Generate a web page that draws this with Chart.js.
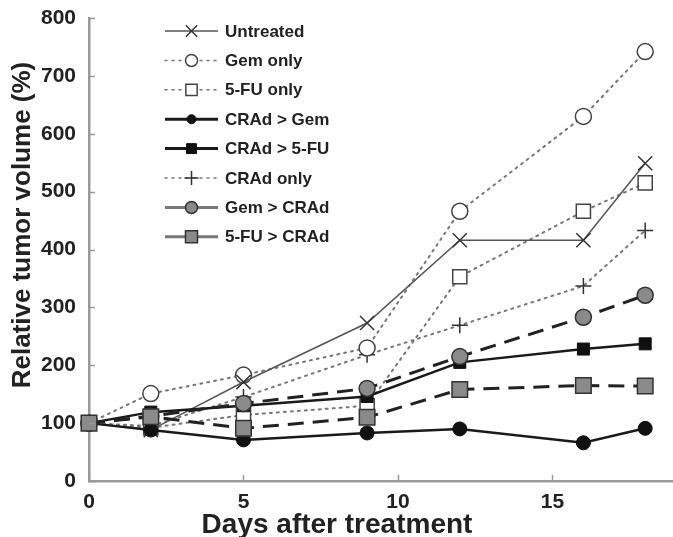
<!DOCTYPE html>
<html>
<head>
<meta charset="utf-8">
<script src="https://cdn.jsdelivr.net/npm/chart.js@4/dist/chart.umd.min.js"></script>
<style>
html,body{margin:0;padding:0;background:#fff;overflow:hidden;}
#wrap{width:673px;height:537px;position:relative;}
</style>
</head>
<body>
<div id="wrap"><canvas id="c"></canvas></div>
<script>
// ---- data ----
const days = [0, 2, 5, 9, 12, 16, 18];
const seriesNames = ["Untreated", "Gem only", "5-FU only", "CRAd > Gem", "CRAd > 5-FU", "CRAd only", "Gem > CRAd", "5-FU > CRAd"];
const untreated = [100, 88, 171, 273, 416, 416, 549];
const gemOnly   = [100, 151, 183, 230, 466, 630, 742];
const fuOnly    = [100, 92, 114, 130, 353, 466, 515];
const cradGem   = [100, 88, 71, 83, 90, 66, 91];
const cradFu    = [100, 119, 130, 146, 205, 228, 237];
const cradOnly  = [100, 95, 145, 218, 269, 337, 433];
const gemCrad   = [100, 112, 134, 160, 215, 283, 321];
const fuCrad    = [100, 111, 91, 110, 158, 165, 164];
const yTicks = [0, 100, 200, 300, 400, 500, 600, 700, 800];
const xTicks = [0, 5, 10, 15];
const xTitle = "Days after treatment";
const yTitle = "Relative tumor volume (%)";

const values = [untreated, gemOnly, fuOnly, cradGem, cradFu, cradOnly, gemCrad, fuCrad];

// ---- styles ----
const FONT = '"Liberation Sans", Arial, sans-serif';
const styles = [
  {line:'#555', w:1.5, dash:[], ps:'crossRot', pr:10, pf:'rgba(0,0,0,0)', pb:'#333', pw:1.5, ord:3,
   lg:{line:'#555', w:1.5, dash:[], pr:8}},
  {line:'#777', w:2, dash:[2,5], ps:'circle', pr:8, pf:'#fff', pb:'#444', pw:1.5, ord:3,
   lg:{line:'#777', w:1.5, dash:[2,5], pr:6}},
  {line:'#777', w:2, dash:[2,5], ps:'rect', pr:10, pf:'#fff', pb:'#444', pw:1.5, ord:3,
   lg:{line:'#777', w:1.5, dash:[2,5], pr:8}},
  {line:'#1a1a1a', w:2.5, dash:[], ps:'circle', pr:7, pf:'#111', pb:'#111', pw:1, ord:2,
   lg:{line:'#1a1a1a', w:3, dash:[], pr:4.5}},
  {line:'#1a1a1a', w:2.5, dash:[], ps:'rect', pr:8.5, pf:'#111', pb:'#111', pw:1, ord:2,
   lg:{line:'#1a1a1a', w:3, dash:[], pr:7}},
  {line:'#777', w:2, dash:[2,5], ps:'cross', pr:8, pf:'rgba(0,0,0,0)', pb:'#333', pw:1.5, ord:3,
   lg:{line:'#777', w:1.5, dash:[2,5], pr:7}},
  {line:'#222', w:3, dash:[16,9], ps:'circle', pr:8, pf:'#8a8a8a', pb:'#333', pw:1.5, ord:1,
   lg:{line:'#777', w:3, dash:[], pr:6}},
  {line:'#222', w:3, dash:[16,9], ps:'rect', pr:11, pf:'#8a8a8a', pb:'#333', pw:1.5, ord:0,
   lg:{line:'#777', w:3, dash:[], pr:8.5}}
];

const datasets = seriesNames.map((name, i) => {
  const s = styles[i];
  return {
    label: name,
    data: days.map((d, j) => ({x: d, y: values[i][j]})),
    order: s.ord,
    borderColor: s.line,
    borderWidth: s.w,
    borderDash: s.dash,
    borderCapStyle: s.dash.length && s.dash[0] <= 2 ? 'round' : 'butt',
    pointStyle: s.ps,
    pointRadius: s.pr,
    pointBackgroundColor: s.pf,
    pointBorderColor: s.pb,
    pointBorderWidth: s.pw,
    tension: 0,
    fill: false,
    clip: false
  };
});

// inside tick marks
const insideTicks = {
  id: 'insideTicks',
  afterDraw(chart) {
    const ctx = chart.ctx, xs = chart.scales.x, ys = chart.scales.y, a = chart.chartArea;
    ctx.save();
    ctx.strokeStyle = '#999';
    ctx.lineWidth = 1.5;
    ctx.setLineDash([]);
    yTicks.forEach(v => {
      const y = Math.round(ys.getPixelForValue(v)) + 0.5;
      ctx.beginPath(); ctx.moveTo(a.left, y); ctx.lineTo(a.left + 6, y); ctx.stroke();
    });
    xTicks.forEach(v => {
      const x = Math.round(xs.getPixelForValue(v)) + 0.5;
      ctx.beginPath(); ctx.moveTo(x, a.bottom); ctx.lineTo(x, a.bottom - 6); ctx.stroke();
    });
    ctx.restore();
  }
};

// axis titles
const axisTitles = {
  id: 'axisTitles',
  afterDraw(chart) {
    const ctx = chart.ctx;
    ctx.save();
    ctx.fillStyle = '#222';
    ctx.font = 'bold 28px ' + FONT;
    ctx.textAlign = 'center';
    ctx.textBaseline = 'alphabetic';
    ctx.fillText(xTitle, 337, 533);
    ctx.translate(30, 225);
    ctx.rotate(-Math.PI / 2);
    ctx.font = 'bold 26px ' + FONT;
    ctx.fillText(yTitle, 0, 0);
    ctx.restore();
  }
};

// legend inside plot
const innerLegend = {
  id: 'innerLegend',
  afterDraw(chart) {
    const ctx = chart.ctx;
    const x0 = 165, x1 = 218, tx = 225, y0 = 31, step = 29.4;
    ctx.save();
    chart.data.datasets.forEach((ds, i) => {
      const s = styles[i].lg;
      const y = y0 + i * step;
      ctx.strokeStyle = s.line;
      ctx.lineWidth = s.w;
      ctx.setLineDash(s.dash);
      ctx.lineCap = s.dash.length ? 'round' : 'butt';
      ctx.beginPath(); ctx.moveTo(x0, y); ctx.lineTo(x1, y); ctx.stroke();
      ctx.setLineDash([]);
      ctx.lineCap = 'butt';
      ctx.fillStyle = ds.pointBackgroundColor;
      ctx.strokeStyle = ds.pointBorderColor;
      ctx.lineWidth = ds.pointBorderWidth;
      Chart.helpers.drawPoint(ctx, {pointStyle: ds.pointStyle, radius: s.pr, rotation: 0, borderWidth: ds.pointBorderWidth}, (x0 + x1) / 2, y);
      ctx.fillStyle = '#222';
      ctx.font = 'bold 17px ' + FONT;
      ctx.textAlign = 'left';
      ctx.textBaseline = 'middle';
      ctx.fillText(ds.label, tx, y + 1);
    });
    ctx.restore();
  }
};

new Chart(document.getElementById('c'), {
  type: 'line',
  data: {datasets},
  options: {
    responsive: true,
    maintainAspectRatio: false,
    animation: false,
    layout: {autoPadding: false, padding: {top: 18, right: 0, left: 0, bottom: 0}},
    plugins: {legend: {display: false}, tooltip: {enabled: false}},
    scales: {
      x: {
        type: 'linear',
        min: 0, max: 18.9,
        afterBuildTicks: s => { s.ticks = xTicks.map(v => ({value: v})); },
        afterFit: s => { s.height = 56; s.paddingRight = 0; s.paddingLeft = 0; },
        grid: {display: false, drawTicks: false},
        border: {display: true, color: '#999', width: 2.5},
        ticks: {color: '#222', font: {family: FONT, size: 21, weight: 'bold'}, padding: 9, maxRotation: 0}
      },
      y: {
        min: 0, max: 800,
        afterBuildTicks: s => { s.ticks = yTicks.map(v => ({value: v})); },
        afterFit: s => { s.width = 89; s.paddingTop = 0; s.paddingBottom = 0; },
        grid: {display: false, drawTicks: false},
        border: {display: true, color: '#999', width: 2.5},
        ticks: {color: '#222', font: {family: FONT, size: 21, weight: 'bold'}, padding: 13}
      }
    }
  },
  plugins: [insideTicks, axisTitles, innerLegend]
});
</script>
</body>
</html>
